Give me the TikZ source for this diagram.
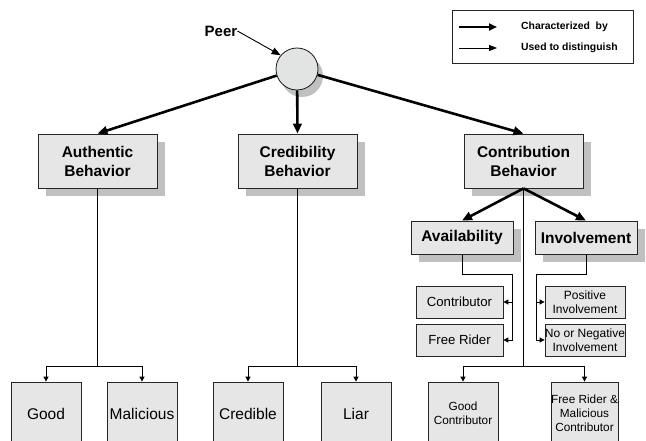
\documentclass[tikz,border=0pt]{standalone}
\usepackage{fontspec}
\setmainfont{Liberation Sans}
\usetikzlibrary{arrows.meta,shadows}
\definecolor{boxgray}{RGB}{230,230,230}
\definecolor{shadowgray}{RGB}{192,192,192}
\definecolor{circgray}{RGB}{226,228,228}
\begin{document}
\begin{tikzpicture}[x=1pt,y=-1pt,
  box/.style={draw=black!85, fill=boxgray, line width=0.8pt, align=center, inner sep=0pt},
  shbox/.style={box, drop shadow={shadow xshift=8pt, shadow yshift=-8pt, fill=shadowgray, opacity=1}},
  bigbold/.style={font=\bfseries\fontsize{15.5}{19}\selectfont},
  thickarrow/.style={line width=2.6pt, -{Triangle[length=10pt,width=8.5pt]}},
  thinarrow/.style={line width=0.9pt, -{Triangle[length=5pt,width=5pt]}},
  vline/.style={line width=1.3pt},
  hline/.style={line width=0.9pt}
]
\clip (0,0) rectangle (646,441);
\fill[white] (0,0) rectangle (646,441);

% legend
\node[draw=black!85, line width=0.8pt, minimum width=181pt, minimum height=53pt, inner sep=0pt] (legend) at (542.5,36.5) {};
\coordinate (l1a) at (459,27); \coordinate (l1b) at (497,27);
\coordinate (l2a) at (459,48); \coordinate (l2b) at (497,48);
\draw[line width=2.4pt, -{Triangle[length=8pt,width=7pt]}] (l1a) -- (l1b);
\draw[line width=0.8pt, -{Triangle[length=8pt,width=6pt]}] (l2a) -- (l2b);
\node[anchor=west, font=\bfseries\fontsize{10.4}{12}\selectfont, inner sep=0pt] (lt1) at (521,27) {Characterized\ \ by};
\node[anchor=west, font=\bfseries\fontsize{10.4}{12}\selectfont, inner sep=0pt] (lt2) at (521,48) {Used to distinguish};

% peer circle
\node[circle, draw=black!90, line width=0.8pt, fill=circgray, minimum size=42pt, inner sep=0pt,
      drop shadow={shadow xshift=5pt, shadow yshift=-7pt, fill=shadowgray, opacity=1}] (peer) at (297,69) {};
\node[font=\bfseries\fontsize{15}{18}\selectfont, inner sep=0pt] (plabel) at (221,31) {Peer};
\draw[line width=0.9pt, -{Triangle[length=9pt,width=7pt]}] (plabel.east) -- (peer.140);

% top boxes
\node[shbox, bigbold, minimum width=119pt, minimum height=54pt] (auth) at (97.5,161) {Authentic\\Behavior};
\node[shbox, bigbold, minimum width=119pt, minimum height=54pt] (cred) at (297.5,161) {Credibility\\Behavior};
\node[shbox, bigbold, minimum width=119pt, minimum height=54pt] (contrib) at (523.5,161) {Contribution\\Behavior};

\draw[thickarrow] (peer) -- (auth.north);
\draw[thickarrow] (peer) -- (cred.north);
\draw[thickarrow] (peer) -- (contrib.north);

% availability / involvement
\node[shbox, bigbold, minimum width=102pt, minimum height=33pt] (avail) at (462,237.5) {Availability};
\node[shbox, bigbold, minimum width=102pt, minimum height=33pt] (inv) at (586,237.5) {Involvement};
\draw[thickarrow] (contrib.south) -- (avail.north);
\draw[thickarrow] (contrib.south) -- (inv.north);

\node[box, font=\fontsize{13.2}{15}\selectfont, minimum width=87pt, minimum height=32pt] (contr) at (459.5,302) {Contributor};
\node[box, font=\fontsize{13.2}{15}\selectfont, minimum width=87pt, minimum height=32pt] (frider) at (459.5,340) {Free Rider};
\node[box, font=\fontsize{12}{14.3}\selectfont, minimum width=80pt, minimum height=32pt] (pos) at (585,302) {Positive\\Involvement};
\node[box, font=\fontsize{12}{14.3}\selectfont, minimum width=80pt, minimum height=32pt] (neg) at (585,340) {No or Negative\\Involvement};

\coordinate (av1) at (512,274);
\draw[hline, -{Triangle[length=5pt,width=5pt]}] (avail.south) |- (av1) |- (frider.east);
\draw[thinarrow] (av1 |- contr.east) -- (contr.east);
\coordinate (iv1) at (536,274);
\draw[hline, -{Triangle[length=5pt,width=5pt]}] (inv.south) |- (iv1) |- (neg.west);
\draw[thinarrow] (iv1 |- pos.west) -- (pos.west);

% bottom boxes
\node[box, font=\fontsize{15.5}{18}\selectfont, minimum width=70pt, minimum height=63pt] (good) at (46,413.5) {Good};
\node[box, font=\fontsize{15.5}{18}\selectfont, minimum width=70pt, minimum height=63pt] (mal) at (142,413.5) {Malicious};
\node[box, font=\fontsize{15.5}{18}\selectfont, minimum width=70pt, minimum height=63pt] (credible) at (248,413.5) {Credible};
\node[box, font=\fontsize{15.5}{18}\selectfont, minimum width=70pt, minimum height=63pt] (liar) at (356,413.5) {Liar};
\node[box, font=\fontsize{11.8}{13.5}\selectfont, minimum width=70pt, minimum height=63pt] (gc) at (463,413.5) {Good\\Contributor};
\node[box, font=\fontsize{11.8}{14}\selectfont, minimum width=67pt, minimum height=63pt] (frmc) at (584.5,413.5) {Free Rider \&\\Malicious\\Contributor};

% connectors to bottom
\coordinate (ja) at (97.5,366);
\draw[vline] (auth.south) -- (ja);
\draw[thinarrow] (ja) -| (good.north);
\draw[thinarrow] (ja) -| (mal.north);

\coordinate (jb) at (297.5,366);
\draw[vline] (cred.south) -- (jb);
\draw[thinarrow] (jb) -| (credible.north);
\draw[thinarrow] (jb) -| (liar.north);

\coordinate (jc) at (523.5,366);
\draw[vline] (contrib.south) -- (jc);
\draw[thinarrow] (jc) -| (gc.north);
\draw[thinarrow] (jc) -| (frmc.north);
\end{tikzpicture}
\end{document}
